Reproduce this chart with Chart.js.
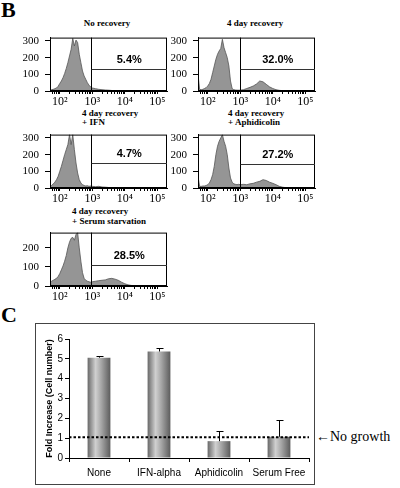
<!DOCTYPE html>
<html>
<head>
<meta charset="utf-8">
<script src="https://cdn.jsdelivr.net/npm/chart.js@4.4.1/dist/chart.umd.min.js"></script>
<style>
  body { margin: 0; background: #fff; width: 400px; height: 488px; position: relative; overflow: hidden; }
  .abs { position: absolute; white-space: nowrap; color: #000; }
  .letter { font: bold 22px "Liberation Serif", "Times New Roman", serif; line-height: 22px; }
  .ptitle { font: bold 9px "Liberation Serif", "Times New Roman", serif; line-height: 9px; }
  canvas.hist { position: absolute; }
  #barBox { position: absolute; left: 35px; top: 323px; width: 280px; height: 162px; border: 1px solid #444; box-sizing: border-box; }
  #noGrowth { font: 14px "Liberation Serif", "Times New Roman", serif; line-height: 16px; }
</style>
</head>
<body>
<div class="abs letter" style="left:1px;top:-1px">B</div>
<div class="abs letter" style="left:1px;top:304px">C</div>

<div class="abs ptitle" style="left:57px;top:19px;width:100px;text-align:center">No recovery</div>
<div class="abs ptitle" style="left:227px;top:19px">4 day recovery</div>
<div class="abs ptitle" style="left:82px;top:109px">4 day recovery<br>+ IFN</div>
<div class="abs ptitle" style="left:228px;top:109px">4 day recovery<br>+ Aphidicolin</div>
<div class="abs ptitle" style="left:72px;top:206px;line-height:10px">4 day recovery<br>+ Serum starvation</div>

<canvas id="h1" class="hist" width="150" height="82" style="left:20px;top:25px"></canvas>
<canvas id="h2" class="hist" width="150" height="82" style="left:168px;top:25px"></canvas>
<canvas id="h3" class="hist" width="150" height="82" style="left:20px;top:122px"></canvas>
<canvas id="h4" class="hist" width="150" height="82" style="left:168px;top:122px"></canvas>
<canvas id="h5" class="hist" width="150" height="82" style="left:20px;top:220px"></canvas>

<div id="barBox"><canvas id="bars" width="278" height="160"></canvas></div>
<div id="noGrowth" class="abs" style="left:316px;top:429px">&larr;No growth</div>

<script>
// Histogram bins (log10 of fluorescence channel)
const binLog = [1.70, 1.75, 1.80, 1.85, 1.90, 1.95, 2.00, 2.05, 2.10, 2.15, 2.20, 2.25, 2.30, 2.35,
                2.40, 2.45, 2.50, 2.55, 2.60, 2.65, 2.70, 2.75, 2.80, 2.85, 2.90, 2.95, 3.00,
                3.10, 3.20, 3.30, 3.40, 3.50, 3.60, 3.70, 3.80, 3.90, 4.00, 4.10, 4.20, 4.30,
                4.40, 4.50, 4.60, 4.80, 5.00, 5.30];

// Cell counts per bin, one array per panel
const countsNoRecovery = [5, 8, 10, 14, 18, 28, 45, 60, 80, 105, 135, 170, 210, 250,
                          315, 270, 305, 290, 220, 170, 120, 90, 70, 50, 35, 25, 18,
                          14, 10, 8, 6, 5, 3, 2, 1, 0, 0, 0, 0, 0, 0, 0, 0, 0, 0, 0];
const countsRecovery = [100, 10, 8, 10, 15, 20, 30, 45, 70, 110, 150, 190, 220, 240,
                        255, 310, 260, 230, 200, 150, 60, 15, 8, 6, 5, 5, 5,
                        8, 15, 22, 30, 42, 60, 55, 40, 25, 15, 8, 4, 2, 1, 0, 0, 0, 0, 0];
const countsIfn = [10, 15, 25, 35, 50, 70, 100, 130, 165, 200, 230, 260, 320, 260,
                   320, 230, 150, 90, 50, 30, 20, 15, 12, 14, 10, 12, 10,
                   8, 10, 6, 5, 3, 2, 1, 0, 0, 0, 0, 0, 0, 0, 0, 0, 0, 0, 0];
const countsAphidicolin = [70, 10, 10, 12, 12, 15, 20, 30, 50, 80, 130, 200, 250, 280,
                           300, 320, 280, 250, 200, 120, 60, 35, 25, 22, 20, 22, 20,
                           22, 20, 25, 28, 35, 40, 50, 45, 35, 28, 20, 10, 5, 2, 0, 0, 0, 0, 0];
const countsSerum = [20, 25, 30, 35, 40, 50, 65, 85, 105, 130, 160, 200, 230, 250,
                     255, 240, 270, 280, 200, 130, 70, 40, 30, 25, 22, 20, 22,
                     25, 28, 30, 32, 38, 40, 36, 30, 20, 12, 6, 3, 1, 0, 0, 0, 0, 0, 0];

const panelCounts = [countsNoRecovery, countsRecovery, countsIfn, countsAphidicolin, countsSerum];
const panelYMax = [320, 320, 320, 320, 280];
const panelYTicks = [[0, 100, 200, 300], [0, 100, 200, 300], [0, 100, 200, 300], [0, 100, 200, 300], [0, 100, 200]];
const gateLog = [2.96, 3.0, 2.96, 3.0, 2.96];
const gateLevel = [132, 132, 147, 145, 111];
const gatePercent = ['5.4%', '32.0%', '4.7%', '27.2%', '28.5%'];
const decadeLabels = { 2: '10²', 3: '10³', 4: '10⁴', 5: '10⁵' };

// Bar chart (panel C)
const categories = ['None', 'IFN-alpha', 'Aphidicolin', 'Serum Free'];
const foldIncrease = [5.06, 5.37, 0.85, 1.07];
const foldError = [0.06, 0.17, 0.51, 0.85];
const noGrowthLevel = 1.05;

const serif = '"Liberation Serif", "Times New Roman", serif';
const sans = '"Liberation Sans", Arial, sans-serif';

// minor + major tick positions for a log-style axis
function logTicks(min, max) {
    const out = [];
    for (let d = 1; d <= 5; d++) {
        for (let k = 1; k <= 9; k++) {
            const v = d + Math.log10(k);
            if (v >= min && v <= max) out.push({ value: v });
        }
    }
    return out;
}

// Gate lines, plot frame and percentage label
const gatePlugin = {
    id: 'gate',
    afterDatasetsDraw(chart, args, opts) {
        const { ctx, chartArea: a, scales: { x, y } } = chart;
        const gx = Math.round(x.getPixelForValue(opts.at)) + 0.5;
        const gy = Math.round(y.getPixelForValue(opts.level)) + 0.5;
        ctx.save();
        ctx.strokeStyle = '#000';
        ctx.lineWidth = 1;
        ctx.strokeRect(a.left + 0.5, a.top + 0.5, a.width - 1, a.height - 1);
        ctx.beginPath();
        ctx.moveTo(gx, a.top);
        ctx.lineTo(gx, a.bottom);
        ctx.stroke();
        ctx.strokeStyle = '#333';
        ctx.beginPath();
        ctx.moveTo(gx, gy);
        ctx.lineTo(a.right, gy);
        ctx.stroke();
        ctx.fillStyle = '#000';
        ctx.font = 'bold 11px ' + sans;
        ctx.textAlign = 'center';
        ctx.textBaseline = 'middle';
        ctx.fillText(opts.text, (gx + a.right) / 2, gy - 10);
        ctx.restore();
    }
};

function makeHistogram(id, i) {
    const counts = panelCounts[i];
    new Chart(document.getElementById(id), {
        type: 'line',
        data: {
            datasets: [{
                data: binLog.map((v, j) => ({ x: v, y: counts[j] })),
                fill: 'origin',
                backgroundColor: '#959595',
                borderColor: '#555',
                borderWidth: 0.8,
                pointRadius: 0,
                tension: 0
            }]
        },
        options: {
            responsive: false,
            animation: false,
            layout: { padding: { top: 7, right: 3, bottom: 0, left: 0 } },
            plugins: {
                legend: { display: false },
                tooltip: { enabled: false },
                gate: { at: gateLog[i], level: gateLevel[i], text: gatePercent[i] }
            },
            scales: {
                x: {
                    type: 'linear',
                    min: 1.7,
                    max: 5.3,
                    afterBuildTicks: s => { s.ticks = logTicks(1.7, 5.3); },
                    afterFit: s => { s.height = 16; },
                    ticks: {
                        autoSkip: false,
                        maxRotation: 0,
                        padding: 1,
                        color: '#000',
                        font: { family: serif, size: 12 },
                        callback: v => decadeLabels[Math.round(v * 1000) / 1000] || ''
                    },
                    grid: { drawOnChartArea: false, tickLength: 3, color: '#000' },
                    border: { color: '#000' }
                },
                y: {
                    min: 0,
                    max: panelYMax[i],
                    afterBuildTicks: s => { s.ticks = panelYTicks[i].map(v => ({ value: v })); },
                    afterFit: s => { s.width = 30; },
                    ticks: { padding: 6, color: '#000', font: { family: serif, size: 11 } },
                    grid: { drawOnChartArea: false, tickLength: 5, color: '#000' },
                    border: { color: '#000' }
                }
            }
        },
        plugins: [gatePlugin]
    });
}

['h1', 'h2', 'h3', 'h4', 'h5'].forEach((id, i) => makeHistogram(id, i));

// Error bars and "no growth" reference line
const barExtras = {
    id: 'barExtras',
    afterDatasetsDraw(chart) {
        const { ctx, chartArea: a, scales: { y } } = chart;
        const meta = chart.getDatasetMeta(0);
        ctx.save();
        ctx.strokeStyle = '#000';
        ctx.lineWidth = 1;
        meta.data.forEach((el, i) => {
            const x = Math.round(el.x) + 0.5;
            const top = Math.round(y.getPixelForValue(foldIncrease[i] + foldError[i])) + 0.5;
            ctx.beginPath();
            ctx.moveTo(x, el.y);
            ctx.lineTo(x, top);
            ctx.moveTo(x - 3, top);
            ctx.lineTo(x + 4, top);
            ctx.stroke();
        });
        const ly = y.getPixelForValue(noGrowthLevel);
        ctx.lineWidth = 2;
        ctx.setLineDash([2.5, 2]);
        ctx.beginPath();
        ctx.moveTo(a.left, ly);
        ctx.lineTo(a.right, ly);
        ctx.stroke();
        ctx.restore();
    }
};

// cylinder-like shading for each bar
function barShade(c) {
    const xs = c.chart.scales.x;
    if (!xs || c.dataIndex === undefined) return '#999';
    const cx = xs.getPixelForValue(c.dataIndex);
    const half = xs.width / categories.length * 0.38 / 2;
    if (!isFinite(cx) || !isFinite(half) || half <= 0) return '#999';
    const g = c.chart.ctx.createLinearGradient(cx - half, 0, cx + half, 0);
    g.addColorStop(0, '#686868');
    g.addColorStop(0.35, '#d0d0d0');
    g.addColorStop(0.6, '#a6a6a6');
    g.addColorStop(1, '#5c5c5c');
    return g;
}

new Chart(document.getElementById('bars'), {
    type: 'bar',
    data: {
        labels: categories,
        datasets: [{
            data: foldIncrease,
            barPercentage: 0.38,
            categoryPercentage: 1,
            borderWidth: 0,
            backgroundColor: barShade
        }]
    },
    options: {
        responsive: false,
        animation: false,
        layout: { padding: { top: 15, right: 5, bottom: 0, left: 0 } },
        plugins: { legend: { display: false }, tooltip: { enabled: false } },
        scales: {
            x: {
                afterFit: s => { s.height = 26; },
                ticks: { padding: 5, color: '#000', font: { family: sans, size: 10 } },
                grid: { drawOnChartArea: false, tickLength: 4, color: '#000' },
                border: { color: '#000' }
            },
            y: {
                min: 0,
                max: 6,
                afterFit: s => { s.width = 33; },
                ticks: { stepSize: 1, padding: 2, color: '#000', font: { family: sans, size: 10 } },
                grid: { drawOnChartArea: false, tickLength: 4, color: '#000' },
                border: { color: '#000' },
                title: {
                    display: true,
                    text: 'Fold Increase (Cell number)',
                    color: '#000',
                    font: { family: sans, size: 9, weight: 'bold' },
                    padding: { top: 8, bottom: 0 }
                }
            }
        }
    },
    plugins: [barExtras]
});
</script>
</body>
</html>
